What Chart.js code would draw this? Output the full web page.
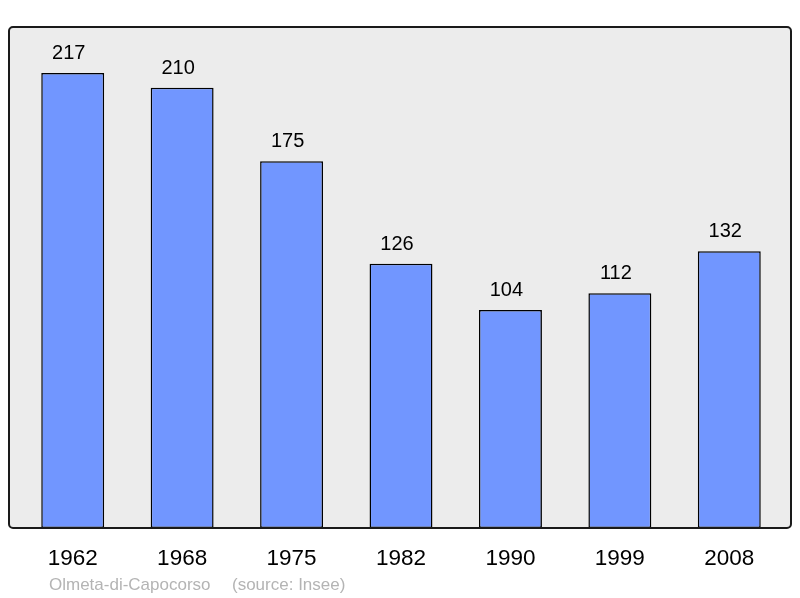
<!DOCTYPE html>
<html>
<head>
<meta charset="utf-8">
<script src="https://cdn.jsdelivr.net/npm/chart.js@4/dist/chart.umd.min.js"></script>
<style>
  html, body { margin: 0; padding: 0; background: #fff; }
  #wrap { width: 800px; height: 598px; }
</style>
</head>
<body>
<div id="wrap"><canvas id="chart" width="800" height="598"></canvas></div>
<script>
const years = ['1962', '1968', '1975', '1982', '1990', '1999', '2008'];
const population = [217, 210, 175, 126, 104, 112, 132];
const footerName = 'Olmeta-di-Capocorso';
const footerSource = '(source: Insee)';

const FONT = '"Liberation Sans", Arial, sans-serif';

// frame + labels drawn around the bars
const decor = {
  id: 'decor',
  beforeDatasetsDraw(chart) {
    const ctx = chart.ctx;
    ctx.save();
    ctx.beginPath();
    ctx.roundRect(9, 27, 782, 501, 4);
    ctx.fillStyle = '#ececec';
    ctx.fill();
    ctx.restore();
  },
  afterDatasetsDraw(chart) {
    const ctx = chart.ctx;
    const x = chart.scales.x;
    const meta = chart.getDatasetMeta(0);
    ctx.save();
    ctx.beginPath();
    ctx.roundRect(9, 27, 782, 501, 4);
    ctx.lineWidth = 2;
    ctx.strokeStyle = '#1a1a1a';
    ctx.stroke();

    ctx.fillStyle = '#000';
    ctx.textAlign = 'center';
    ctx.textBaseline = 'alphabetic';
    ctx.font = '20px ' + FONT;
    meta.data.forEach((bar, i) => {
      ctx.fillText(String(population[i]), bar.x - 4, bar.y - 14);
    });

    ctx.font = '22.5px ' + FONT;
    years.forEach((y, i) => {
      ctx.fillText(y, x.getPixelForValue(i), 565);
    });

    ctx.textAlign = 'left';
    ctx.fillStyle = '#b4b4b4';
    ctx.font = '17px ' + FONT;
    ctx.fillText(footerName, 49, 590);
    ctx.fillText(footerSource, 232, 590);
    ctx.restore();
  }
};

new Chart(document.getElementById('chart'), {
  type: 'bar',
  data: {
    labels: years,
    datasets: [{
      data: population,
      backgroundColor: '#7196ff',
      borderColor: '#000',
      borderWidth: 1.5,
      borderSkipped: false,
      barPercentage: 0.575,
      categoryPercentage: 1
    }]
  },
  options: {
    responsive: false,
    animation: false,
    layout: { padding: { left: 18, right: 16, top: 27, bottom: 70 } },
    plugins: { legend: { display: false }, tooltip: { enabled: false } },
    scales: {
      x: { display: false },
      y: { display: false, min: 0, max: 239 }
    }
  },
  plugins: [decor]
});
</script>
</body>
</html>
